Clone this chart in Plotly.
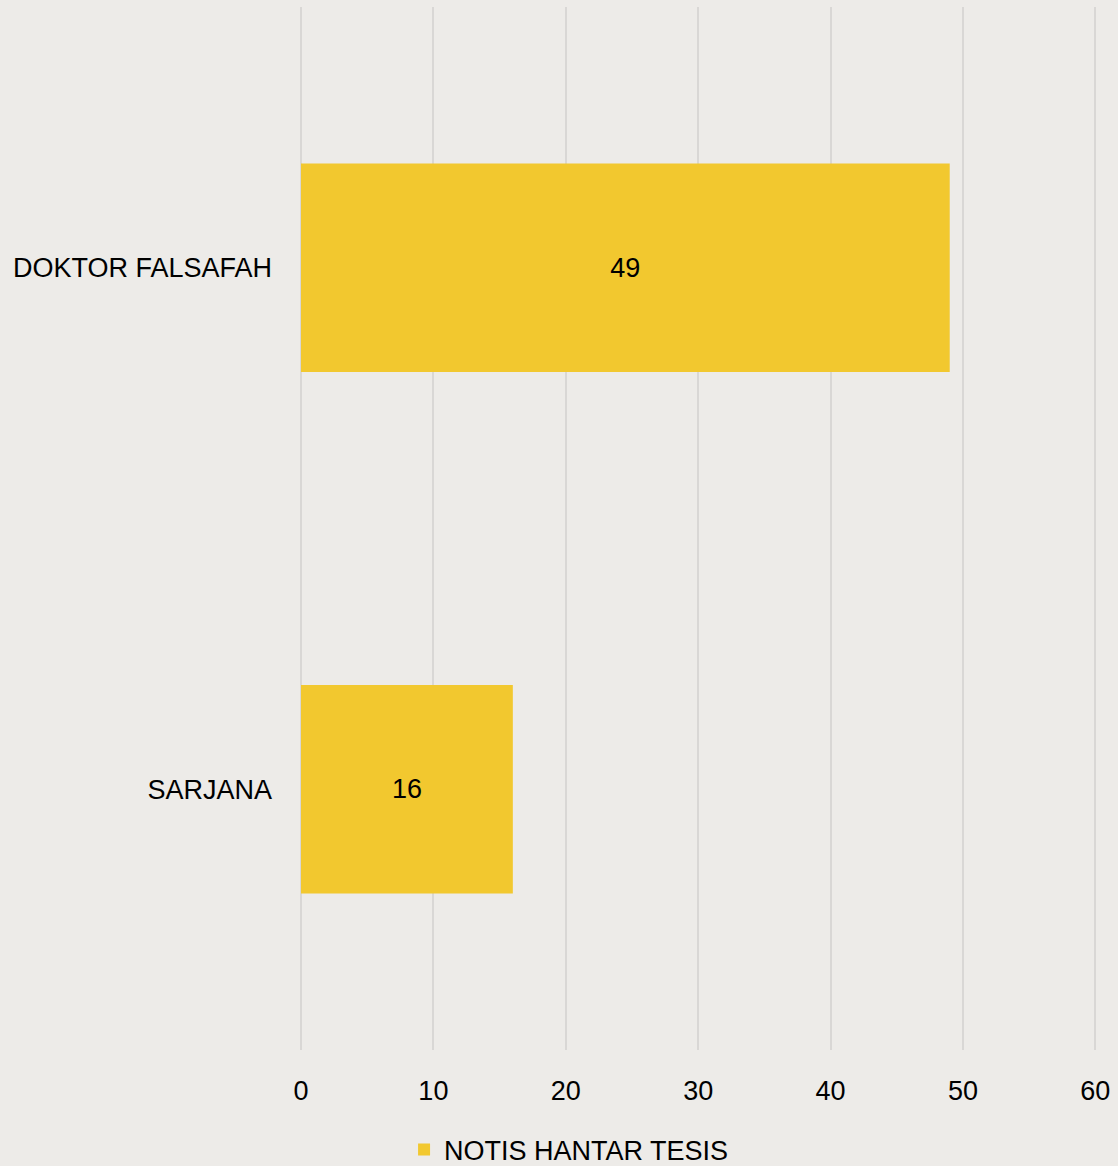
import plotly.graph_objects as go

categories = ["DOKTOR FALSAFAH", "SARJANA"]
values = [49, 16]
series_name = "NOTIS HANTAR TESIS"
tick_vals = [0, 10, 20, 30, 40, 50, 60]

BG = "#EDEBE8"
BAR = "#F2C82F"
GRID = "#D9D7D5"
FONT = "Liberation Sans, Arial, sans-serif"

fig = go.Figure()
fig.add_trace(go.Bar(
    y=categories, x=values, orientation="h", name=series_name,
    marker=dict(color=BAR, line=dict(width=0)),
    width=0.4,
    text=[str(v) for v in values], textposition="inside",
    insidetextanchor="middle",
    textfont=dict(size=27, color="#000000", family=FONT),
    showlegend=True,
))

fig.update_layout(
    width=1118, height=1166,
    paper_bgcolor=BG, plot_bgcolor=BG,
    margin=dict(l=301, r=20, t=7, b=116),
    font=dict(family=FONT, size=27, color="#000000"),
    xaxis=dict(range=[0, 60.2], tickvals=tick_vals, showgrid=True,
               gridcolor=GRID, gridwidth=2, zeroline=True,
               zerolinecolor=GRID, zerolinewidth=2,
               showline=False, ticks="", ticklabelstandoff=22,
               tickfont=dict(size=27)),
    yaxis=dict(categoryorder="array", categoryarray=categories,
               autorange="reversed", showgrid=False, zeroline=False,
               showline=False, ticks="", ticklabelstandoff=28,
               tickfont=dict(size=27)),
    legend=dict(orientation="h", xref="container", yref="container",
                x=0.509, xanchor="center", y=0.0137, yanchor="middle",
                font=dict(size=27), bgcolor="rgba(0,0,0,0)",
                itemwidth=30),
    bargap=0.6,
)

fig.write_html("out.html",
               config={"displayModeBar": False},
               post_script="document.body.style.margin='0';document.body.style.background='%s';" % BG)
